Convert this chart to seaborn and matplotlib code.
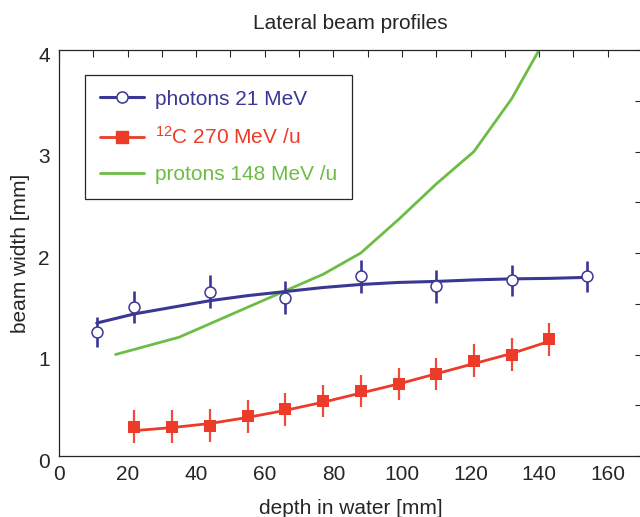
import matplotlib
matplotlib.use("Agg")
import matplotlib.pyplot as plt
import seaborn as sns
from matplotlib.ticker import MultipleLocator
from matplotlib.lines import Line2D
from matplotlib.transforms import ScaledTranslation

# Measured lateral widths (points with error bars) and fitted curves
photon_depth = [11, 22, 44, 66, 88, 110, 132, 154]
photon_width = [1.22, 1.47, 1.62, 1.56, 1.77, 1.67, 1.73, 1.77]
photon_err = [0.15, 0.16, 0.16, 0.16, 0.16, 0.16, 0.15, 0.15]
photon_fit_depth = [11, 22, 33, 44, 55, 66, 77, 88, 99, 110, 121, 132, 143, 154]
photon_fit_width = [1.31, 1.40, 1.465, 1.53, 1.58, 1.62, 1.66, 1.69, 1.71,
                    1.72, 1.735, 1.745, 1.75, 1.76]

carbon_depth = [22, 33, 44, 55, 66, 77, 88, 99, 110, 121, 132, 143]
carbon_width = [0.29, 0.29, 0.30, 0.39, 0.46, 0.54, 0.64, 0.71, 0.81, 0.94, 1.00, 1.15]
carbon_err = [0.16] * 12
carbon_fit_width = [0.25, 0.28, 0.32, 0.38, 0.45, 0.53, 0.62, 0.71, 0.81, 0.91, 1.01, 1.13]

proton_depth = [16.5, 35, 77, 88, 99, 110, 121, 132, 143]
proton_width = [1.00, 1.17, 1.79, 2.00, 2.33, 2.68, 3.00, 3.52, 4.18]

labels = ["photons 21 MeV", r"$^{12}$C 270 MeV /u", "protons 148 MeV /u"]

BLUE = "#3b3794"
RED = "#ec3b28"
RED_BAR = "#ef4a3a"
GREEN = "#6dbd45"
TEXT = "#262626"

sns.set_theme(style="white")
plt.rcParams["font.family"] = ["Liberation Sans", "DejaVu Sans"]
plt.rcParams["mathtext.default"] = "regular"
plt.rcParams["font.size"] = 15

fig = plt.figure(figsize=(6.4, 5.17), dpi=100)
ax = fig.add_axes([59 / 640, 1 - 456 / 517, (642 - 59) / 640, 406 / 517])

# proton curve
sns.lineplot(x=proton_depth, y=proton_width, ax=ax, color=GREEN, lw=2.0,
             sort=False, estimator=None, zorder=2)

# photons: fit, error bars, open circles
sns.lineplot(x=photon_fit_depth, y=photon_fit_width, ax=ax, color=BLUE, lw=2.2,
             sort=False, estimator=None, zorder=3)
ax.errorbar(photon_depth, photon_width, yerr=photon_err, fmt="none",
            ecolor=BLUE, elinewidth=1.9, capsize=0, zorder=3)
sns.scatterplot(x=photon_depth, y=photon_width, ax=ax, marker="o", s=62,
                color="white", edgecolor=BLUE, linewidth=1.1, zorder=4)

# carbon: fit, error bars, filled squares
sns.lineplot(x=carbon_depth, y=carbon_fit_width, ax=ax, color=RED, lw=2.0,
             sort=False, estimator=None, zorder=3)
ax.errorbar(carbon_depth, carbon_width, yerr=carbon_err, fmt="none",
            ecolor=RED_BAR, elinewidth=1.6, capsize=0, zorder=3)
sns.scatterplot(x=carbon_depth, y=carbon_width, ax=ax, marker="s", s=72,
                color=RED, edgecolor=RED, linewidth=0, zorder=4)

ax.set_xlim(0, 170)
ax.set_ylim(0, 4)
ax.xaxis.set_major_locator(MultipleLocator(20))
ax.xaxis.set_minor_locator(MultipleLocator(10))
ax.yaxis.set_major_locator(MultipleLocator(1))
ax.yaxis.set_minor_locator(MultipleLocator(0.5))
ax.tick_params(which="both", direction="in", top=True, right=True,
               length=4.8, width=0.8, color=TEXT, labelcolor=TEXT,
               labelsize=15)
ax.tick_params(axis="x", which="major", pad=6.5)
ax.tick_params(axis="y", which="major", pad=6.5)
for sp in ax.spines.values():
    sp.set_linewidth(0.9)
    sp.set_color(TEXT)

# y tick labels sit slightly below their ticks
shift = ScaledTranslation(0, -3 / 72, fig.dpi_scale_trans)
for lab in ax.get_yticklabels():
    lab.set_transform(lab.get_transform() + shift)

ax.set_title("Lateral beam profiles", fontsize=15, color=TEXT, pad=15)
ax.set_xlabel("depth in water [mm]", fontsize=15, color=TEXT, labelpad=11)
ax.set_ylabel("beam width [mm]", fontsize=15, color=TEXT, labelpad=6)

handles = [
    Line2D([], [], color=BLUE, lw=2.2, marker="o", markersize=8,
           markerfacecolor="white", markeredgecolor=BLUE, markeredgewidth=1.1),
    Line2D([], [], color=RED, lw=2.0, marker="s", markersize=8.5,
           markerfacecolor=RED, markeredgecolor=RED),
    Line2D([], [], color=GREEN, lw=2.0),
]
leg = ax.legend(handles, labels, loc="upper left",
                bbox_to_anchor=(85 / 640, 1 - 75 / 517),
                bbox_transform=fig.transFigure, borderaxespad=0,
                fontsize=15, labelcolor="linecolor", frameon=True,
                fancybox=False, framealpha=1, edgecolor=TEXT,
                handlelength=2.15, handletextpad=0.5, labelspacing=0.84,
                borderpad=0.7)
leg.get_frame().set_linewidth(0.9)

fig.savefig("out.png", dpi=100)
